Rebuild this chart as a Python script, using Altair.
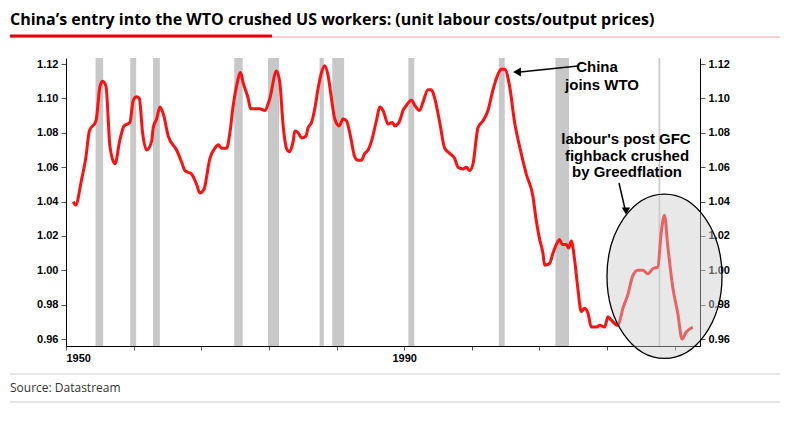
import altair as alt
import pandas as pd

years = [1950.87, 1951.14, 1951.85, 1952.36, 1952.76, 1953.55, 1954.02, 1954.33, 1954.73, 1955.2,
         1955.79, 1956.38, 1956.86, 1957.56, 1957.96, 1958.35, 1958.67, 1959.06, 1959.54, 1960.13,
         1960.32, 1960.72, 1961.11, 1961.51, 1962.1, 1963.08, 1963.67, 1964.07, 1964.85, 1965.45,
         1965.84, 1966.31, 1967.02, 1967.61, 1968.01, 1968.4, 1968.99, 1969.39, 1969.78, 1970.17,
         1970.65, 1970.96, 1971.55, 1971.83, 1972.93, 1973.52, 1974.11, 1974.9, 1975.3, 1975.69,
         1976.08, 1976.4, 1976.87, 1977.07, 1977.46, 1977.86, 1978.37, 1978.64, 1979.04, 1979.43,
         1979.83, 1980.22, 1980.61, 1981.01, 1981.4, 1981.8, 1982.31, 1982.78, 1983.18, 1983.57,
         1984.16, 1984.55, 1984.95, 1985.34, 1985.74, 1986.13, 1986.72, 1987.12, 1987.51, 1988.1,
         1988.61, 1988.89, 1989.48, 1989.87, 1990.27, 1990.86, 1991.25, 1991.84, 1992.24, 1992.83,
         1993.22, 1993.62, 1994.21, 1994.8, 1995.39, 1995.98, 1996.38, 1996.97, 1997.36, 1997.75,
         1998.15, 1998.74, 1999.33, 1999.92, 2000.51, 2001.1, 2001.5, 2001.89, 2002.48, 2003.07,
         2003.66, 2004.45, 2005.24, 2005.63, 2006.03, 2006.42, 2006.62, 2007.21, 2007.6, 2008.0,
         2008.39, 2008.71, 2009.18, 2009.46, 2009.77, 2010.17, 2010.56, 2010.96, 2011.35, 2011.75,
         2012.14, 2012.73, 2013.13, 2013.72, 2014.11, 2014.51, 2015.29, 2015.88, 2016.47, 2017.06,
         2017.65, 2018.24, 2018.83, 2019.42, 2020.01, 2020.41, 2020.8, 2021.19, 2021.78, 2022.37,
         2022.88, 2023.36, 2024.14]
ratio = [1.040, 1.038, 1.053, 1.066, 1.081, 1.087, 1.107, 1.110, 1.107, 1.072,
         1.062, 1.076, 1.084, 1.086, 1.099, 1.101, 1.100, 1.080, 1.070, 1.075,
         1.083, 1.088, 1.095, 1.091, 1.078, 1.070, 1.063, 1.058, 1.056, 1.050,
         1.045, 1.047, 1.065, 1.071, 1.073, 1.071, 1.071, 1.080, 1.096, 1.107,
         1.115, 1.109, 1.100, 1.094, 1.094, 1.093, 1.100, 1.116, 1.109, 1.084,
         1.071, 1.069, 1.075, 1.081, 1.080, 1.077, 1.078, 1.083, 1.086, 1.094,
         1.106, 1.115, 1.119, 1.113, 1.100, 1.088, 1.084, 1.088, 1.087, 1.080,
         1.066, 1.064, 1.064, 1.068, 1.070, 1.075, 1.087, 1.095, 1.093, 1.085,
         1.086, 1.084, 1.087, 1.093, 1.096, 1.099, 1.096, 1.093, 1.098, 1.105,
         1.105, 1.100, 1.086, 1.071, 1.068, 1.065, 1.060, 1.059, 1.060, 1.058,
         1.062, 1.083, 1.087, 1.093, 1.105, 1.114, 1.117, 1.117, 1.107, 1.086,
         1.072, 1.056, 1.043, 1.029, 1.018, 1.010, 1.003, 1.004, 1.010, 1.015,
         1.018, 1.015, 1.015, 1.013, 1.017, 1.006, 0.989, 0.976, 0.978, 0.975,
         0.967, 0.967, 0.968, 0.967, 0.973, 0.971, 0.968, 0.978, 0.986, 0.997,
         1.000, 1.000, 0.998, 1.001, 1.002, 1.022, 1.032, 1.014, 0.990, 0.975,
         0.960, 0.964, 0.967]

rec_start = [1953.5, 1957.6, 1960.3, 1969.9, 1973.9, 1980.0, 1981.5, 1990.5, 2001.2, 2007.9, 2020.1]
rec_end = [1954.4, 1958.3, 1961.1, 1970.9, 1975.2, 1980.5, 1982.9, 1991.2, 2001.9, 2009.5, 2020.3]

W, H = 634, 288
xdom = [1950, 2025]
ydom = [0.956, 1.1235]
FONT = "Liberation Sans"

line_df = pd.DataFrame({"year": years, "ratio": ratio})
rec_df = pd.DataFrame({"start": rec_start, "end": rec_end})

xs = alt.Scale(domain=xdom, nice=False, zero=False)
ys = alt.Scale(domain=ydom, nice=False, zero=False)
yvals = [0.96, 0.98, 1.00, 1.02, 1.04, 1.06, 1.08, 1.10, 1.12]


def y_axis(orient):
    return alt.Axis(orient=orient, values=yvals, format=".2f", title=None, grid=False,
                    domainColor="black", tickColor="#555", tickSize=5, labelFont=FONT,
                    labelFontWeight="bold", labelFontSize=11, labelColor="black",
                    labelOverlap=False)


recs = alt.Chart(rec_df).mark_rect(color="#c8c8c8").encode(
    x=alt.X("start:Q", scale=xs, axis=alt.Axis(
        values=list(range(1950, 2026)), title=None, grid=False, domainColor="black",
        tickColor="#555", tickSize=4, labelOverlap=False,
        labelExpr="datum.value % 10 == 0 ? datum.value : ''",
        labelFont=FONT, labelFontWeight="bold", labelFontSize=11, labelColor="black")),
    x2="end:Q",
    y=alt.value(0), y2=alt.value(H),
)

line = alt.Chart(line_df).mark_line(color="#ff1010", strokeWidth=3, interpolate="monotone").encode(
    x=alt.X("year:Q", scale=xs),
    y=alt.Y("ratio:Q", scale=ys, axis=y_axis("left")),
)

right_axis = alt.Chart(line_df).mark_line(opacity=0).encode(
    x=alt.X("year:Q", scale=xs),
    y=alt.Y("ratio:Q", scale=ys, axis=y_axis("right")),
)

ellipse_path = "M -0.35,0 A 0.35,0.5 0 1,0 0.35,0 A 0.35,0.5 0 1,0 -0.35,0 Z"
ellipse = alt.Chart(pd.DataFrame({"year": [2020.8], "ratio": [0.9966]})).mark_point(
    shape=ellipse_path, size=108000, filled=False, fill="#cccccc", fillOpacity=0.45,
    stroke="black", strokeWidth=1.3, opacity=1,
).encode(x=alt.X("year:Q", scale=xs), y=alt.Y("ratio:Q", scale=ys, axis=None))

# annotations (pixel positions relative to the plot area)
txt = dict(font=FONT, fontWeight="bold", fontSize=15, color="black", align="center")
ann = []
ann.append(alt.Chart().mark_text(text="China", **txt).encode(x=alt.value(531), y=alt.value(9)))
ann.append(alt.Chart().mark_text(text="joins WTO", **txt).encode(x=alt.value(536), y=alt.value(27)))
ann.append(alt.Chart().mark_text(text="labour's post GFC", **txt).encode(x=alt.value(560), y=alt.value(81)))
ann.append(alt.Chart().mark_text(text="fighback crushed", **txt).encode(x=alt.value(561), y=alt.value(98)))
ann.append(alt.Chart().mark_text(text="by Greedflation", **txt).encode(x=alt.value(561), y=alt.value(114)))
ann.append(alt.Chart().mark_rule(color="black", strokeWidth=1.5).encode(
    x=alt.value(512), x2=alt.value(454), y=alt.value(8), y2=alt.value(14)))
ann.append(alt.Chart().mark_point(shape="triangle-left", filled=True, color="black", size=80, opacity=1).encode(
    x=alt.value(451), y=alt.value(14)))
ann.append(alt.Chart().mark_rule(color="black", strokeWidth=1.5).encode(
    x=alt.value(553), x2=alt.value(559), y=alt.value(125), y2=alt.value(151)))
ann.append(alt.Chart().mark_point(shape="triangle-down", filled=True, color="black", size=70, opacity=1).encode(
    x=alt.value(560), y=alt.value(153)))

# header and footer
ann.append(alt.Chart().mark_text(
    text="China\u2019s entry into the WTO crushed US workers: (unit labour costs/output prices)",
    font="Open Sans", fontWeight="bold", fontSize=16, color="black", align="left", baseline="middle",
).encode(x=alt.value(-56), y=alt.value(-38)))
ann.append(alt.Chart().mark_rule(color="#f4a0a0", strokeWidth=1).encode(
    x=alt.value(-56), x2=alt.value(714), y=alt.value(-21)))
ann.append(alt.Chart().mark_rule(color="#e8000b", strokeWidth=3).encode(
    x=alt.value(-56), x2=alt.value(206), y=alt.value(-22)))
ann.append(alt.Chart().mark_rule(color="#cccccc", strokeWidth=1).encode(
    x=alt.value(-56), x2=alt.value(714), y=alt.value(316)))
ann.append(alt.Chart().mark_text(
    text="Source: Datastream", font="Open Sans", fontSize=12, color="#333", align="left", baseline="middle",
).encode(x=alt.value(-56), y=alt.value(330)))
ann.append(alt.Chart().mark_rule(color="#cccccc", strokeWidth=1).encode(
    x=alt.value(-56), x2=alt.value(714), y=alt.value(344)))

chart = alt.layer(recs, line, right_axis, ellipse, *ann).resolve_scale(y="shared").resolve_axis(
    y="independent"
).properties(
    width=W, height=H,
    autosize=alt.AutoSizeParams(type="none"),
    padding={"left": 58, "top": 50, "right": 80, "bottom": 60},
).configure_view(stroke=None).configure_axisY(labelPadding=3)

chart.save("out.html", embed_options={"renderer": "svg", "actions": False})
